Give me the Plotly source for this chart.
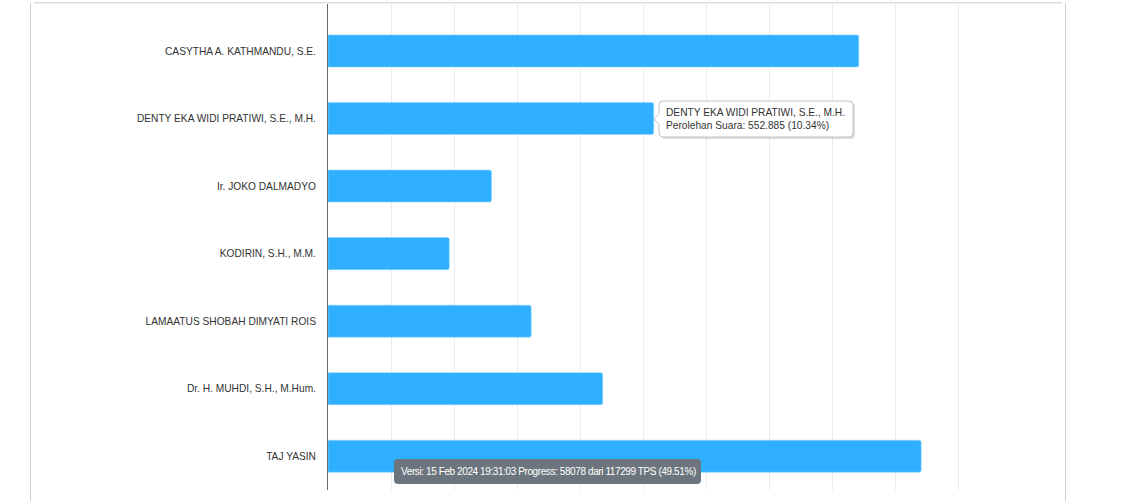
import plotly.graph_objects as go

# ---- data ----
candidates = [
    "CASYTHA A. KATHMANDU, S.E.",
    "DENTY EKA WIDI PRATIWI, S.E., M.H.",
    "Ir. JOKO DALMADYO",
    "KODIRIN, S.H., M.M.",
    "LAMAATUS SHOBAH DIMYATI ROIS",
    "Dr. H. MUHDI, S.H., M.Hum.",
    "TAJ YASIN",
]
votes = [901000, 552885, 277500, 205900, 344900, 466300, 1006900]
total_votes = 5347000
version_text = "Versi: 15 Feb 2024 19:31:03 Progress: 58078 dari 117299 TPS (49.51%)"
tooltip_index = 1

pct = [v / total_votes * 100 for v in votes]

# ---- layout helpers (pixel geometry) ----
W, H = 1139, 501
L, R, T, B = 328, 124, 4, 11
PW, PH = W - L - R, H - T - B
FONT = "Liberation Sans, Arial"

def px(x):
    return (x - L) / PW

def py(y):
    return (H - B - y) / PH

def rounded_rect(x0, y0, x1, y1, r, notch=None):
    pts = [
        f"M {px(x0 + r)} {py(y0)}",
        f"L {px(x1 - r)} {py(y0)}",
        f"Q {px(x1)} {py(y0)} {px(x1)} {py(y0 + r)}",
        f"L {px(x1)} {py(y1 - r)}",
        f"Q {px(x1)} {py(y1)} {px(x1 - r)} {py(y1)}",
        f"L {px(x0 + r)} {py(y1)}",
        f"Q {px(x0)} {py(y1)} {px(x0)} {py(y1 - r)}",
    ]
    if notch:
        cy, hw, d = notch
        pts += [f"L {px(x0)} {py(cy + hw)}", f"L {px(x0 - d)} {py(cy)}", f"L {px(x0)} {py(cy - hw)}"]
    pts += [
        f"L {px(x0)} {py(y0 + r)}",
        f"Q {px(x0)} {py(y0)} {px(x0 + r)} {py(y0)}",
        "Z",
    ]
    return " ".join(pts)

fig = go.Figure()
fig.add_trace(go.Bar(
    x=pct, y=candidates, orientation="h",
    width=0.474,
    marker=dict(color="#2eafff", line=dict(color="#8fd3ff", width=0.6), cornerradius=2),
    customdata=[f"{v:,}".replace(",", ".") for v in votes],
    hovertemplate="%{y}<br>Perolehan Suara: %{customdata} (%{x:.2f}%)<extra></extra>",
))

shapes = [
    dict(type="line", xref="paper", yref="paper", x0=px(30.5), x1=px(30.5), y0=py(3), y1=py(501), line=dict(color="#d0d0d0", width=1)),
    dict(type="line", xref="paper", yref="paper", x0=px(1065.5), x1=px(1065.5), y0=py(3), y1=py(501), line=dict(color="#d0d0d0", width=1)),
    dict(type="line", xref="paper", yref="paper", x0=px(34), x1=px(1062), y0=py(2.5), y1=py(2.5), line=dict(color="#dcdcdc", width=1)),
    dict(type="line", xref="paper", yref="paper", x0=px(34), x1=px(1062), y0=py(3.5), y1=py(3.5), line=dict(color="#f0f0f0", width=1)),
    # tooltip shadow + box
    dict(type="path", xref="paper", yref="paper", path=rounded_rect(661, 103, 855, 139, 4),
         fillcolor="rgba(0,0,0,0.13)", line=dict(width=0), layer="above"),
    dict(type="path", xref="paper", yref="paper", path=rounded_rect(659, 101, 853, 137, 4, notch=(119, 5, 5)),
         fillcolor="white", line=dict(color="#c4c4c4", width=1), layer="above"),
    # version banner background
    dict(type="path", xref="paper", yref="paper", path=rounded_rect(394, 459, 701, 484, 4),
         fillcolor="#6c757d", line=dict(width=0), layer="above"),
]
fig.update_layout(shapes=shapes)

fmt_votes = f"{votes[tooltip_index]:,}".replace(",", ".")
fig.add_annotation(
    x=pct[tooltip_index], y=candidates[tooltip_index], xref="x", yref="y",
    text=f"{candidates[tooltip_index]}<br>Perolehan Suara: {fmt_votes} ({pct[tooltip_index]:.2f}%)",
    showarrow=False, xanchor="left", xshift=5, align="left",
    borderpad=6,
    font=dict(family=FONT, size=10.2, color="#333"),
)

# version banner text
fig.add_annotation(
    x=px(548), y=py(471.5), xref="paper", yref="paper",
    xanchor="center", yanchor="middle",
    text=f'<span style="letter-spacing:-0.4px">{version_text}</span>', showarrow=False,
    font=dict(family=FONT, size=10, color="white"),
)

fig.update_layout(
    width=W, height=H,
    margin=dict(l=L, r=R, t=T, b=B, pad=0),
    paper_bgcolor="white", plot_bgcolor="white",
    showlegend=False,
    font=dict(family=FONT, size=10.2, color="#333"),
    xaxis=dict(range=[0, PW / 31.5], dtick=2, showgrid=True, gridcolor="#ebebeb", gridwidth=1,
               zeroline=False, showticklabels=False, showline=False, fixedrange=True),
    yaxis=dict(categoryorder="array", categoryarray=candidates,
               range=[6.5, -0.5 - 13.25 / 67.5], showline=True, linecolor="#666", linewidth=1,
               showgrid=False, zeroline=False, ticks="", ticklabelstandoff=9,
               tickfont=dict(family=FONT, size=10.2, color="#333"), fixedrange=True),
)

fig.write_html("out.html")
